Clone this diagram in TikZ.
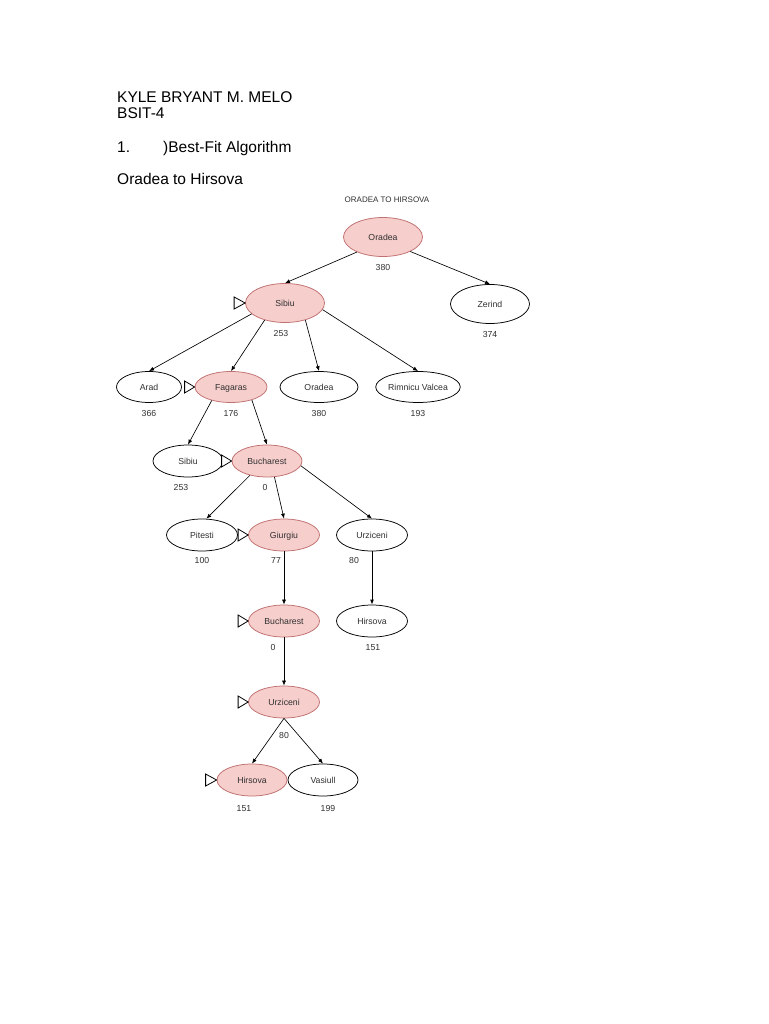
\documentclass[tikz,border=0pt]{standalone}
\usepackage{fontspec}
\setmainfont{Liberation Sans}
\usetikzlibrary{shapes.geometric,arrows.meta}
\definecolor{pinkfill}{HTML}{F6CECC}
\definecolor{pinkdraw}{HTML}{C07070}
\definecolor{txt}{HTML}{303030}
\begin{document}
\begin{tikzpicture}[x=1pt,y=-1pt,
  city/.style={ellipse, draw=black, line width=0.75pt, fill=white, inner sep=0pt,
    minimum width=71pt, minimum height=32pt, text height=6.2pt, text depth=0pt,
    text=txt, font=\fontsize{8.7}{10}\selectfont},
  visited/.style={city, fill=pinkfill, draw=pinkdraw},
  big/.style={minimum width=79pt, minimum height=39pt},
  cost/.style={font=\fontsize{8.7}{10}\selectfont, inner sep=0pt, text=txt,
    text height=6.2pt, text depth=0pt},
  edge/.style={-{Latex[length=5pt,width=4pt]}, line width=0.65pt},
  marker/.style={line width=0.8pt, fill=white, line join=miter},
  head/.style={anchor=base west, inner sep=0pt, font=\fontsize{15.5}{18}\selectfont}]
\fill[white] (0,0) rectangle (768,1024);
\useasboundingbox (0,0) rectangle (768,1024);

% header
\node[head] (h1) at (117,103) {KYLE BRYANT M. MELO};
\node[head] (h2) at (117,119) {BSIT-4};
\node[head] (h3) at (117,153) {1.};
\node[head] (h4) at (163,153) {)Best-Fit Algorithm};
\node[head] (h5) at (117,185) {Oradea to Hirsova};
\node[font=\fontsize{8}{10}\selectfont, inner sep=0pt, text=txt] (title) at (387,200) {ORADEA TO HIRSOVA};

% nodes
\node[visited,big] (oradea) at (383,237) {Oradea};
\node[cost] (c1) at (383,267) {380};
\node[visited,big] (sibiu) at (285,303) {Sibiu};
\node[cost] (c2) at (281,333) {253};
\node[city,big] (zerind) at (490,304) {Zerind};
\node[cost] (c3) at (490,334) {374};

\node[city,minimum width=65pt,minimum height=31pt] (arad) at (149,387) {Arad};
\node[cost] (c4) at (149,413) {366};
\node[visited,minimum width=72pt,minimum height=31pt] (fagaras) at (231,387) {Fagaras};
\node[cost] (c5) at (231,413) {176};
\node[city,minimum width=78pt,minimum height=31pt] (oradea2) at (319,387) {Oradea};
\node[cost] (c6) at (319,413) {380};
\node[city,minimum width=79pt,minimum height=31pt] (rimnicu) at (418,387) {Rimnicu Valcea};
\node[cost] (c7) at (418,413) {193};

\node[city,minimum width=70pt] (sibiu2) at (188,461) {Sibiu};
\node[cost] (c8) at (181,487) {253};
\node[visited,minimum width=70pt] (buch1) at (267,461) {Bucharest};
\node[cost] (c9) at (265,487) {0};

\node[city] (pitesti) at (202,535) {Pitesti};
\node[cost] (c10) at (202,560) {100};
\node[visited] (giurgiu) at (284,535) {Giurgiu};
\node[cost] (c11) at (276,560) {77};
\node[city] (urz1) at (372,535) {Urziceni};
\node[cost] (c12) at (354,560) {80};

\node[visited] (buch2) at (284,621) {Bucharest};
\node[cost] (c13) at (273,647) {0};
\node[city] (hirs1) at (372,621) {Hirsova};
\node[cost] (c14) at (373,647) {151};

\node[visited] (urz2) at (284,702) {Urziceni};
\node[cost] (c15) at (284,735) {80};

\node[visited,minimum width=70pt] (hirs2) at (252,780) {Hirsova};
\node[cost] (c16) at (244,808) {151};
\node[city,minimum width=70pt] (vasiull) at (323,780) {Vasiull};
\node[cost] (c17) at (328,808) {199};

% edges
\draw[edge] (oradea.-150) -- (sibiu.north);
\draw[edge] (oradea.-28) -- (zerind.north);
\draw[edge] (sibiu.-162) -- (arad.north);
\draw[edge] (sibiu.-140) -- (fagaras.north);
\draw[edge] (sibiu.-40) -- (oradea2.north);
\draw[edge] (sibiu.-10) -- (rimnicu.north);
\draw[edge] (fagaras.-145) -- (sibiu2.north);
\draw[edge] (fagaras.-32) -- (buch1.north);
\draw[edge] (buch1.-140) -- (pitesti.75);
\draw[edge] (buch1.-65) -- (giurgiu.north);
\draw[edge] (buch1.-8) -- (urz1.north);
\draw[edge, line width=0.9pt] (urz1.south) -- (hirs1.north);
\draw[edge] (giurgiu.south) -- (buch2.north);
\draw[edge] (buch2.south) -- (urz2.north);
\draw[edge] (urz2.south) -- (hirs2.north);
\draw[edge] (urz2.south) -- (vasiull.north);

% markers
\draw[marker] (sibiu.west) -- ++(-11,-6) -- ++(0,12) -- cycle;
\draw[marker] (fagaras.west) -- ++(-10,-6) -- ++(0,12) -- cycle;
\draw[marker] (buch1.west) -- ++(-10,-6) -- ++(0,12) -- cycle;
\draw[marker] (giurgiu.west) -- ++(-10,-6) -- ++(0,12) -- cycle;
\draw[marker] (buch2.west) -- ++(-10,-6) -- ++(0,12) -- cycle;
\draw[marker] (urz2.west) -- ++(-10,-6) -- ++(0,12) -- cycle;
\draw[marker] (hirs2.west) -- ++(-11,-6) -- ++(0,12) -- cycle;
\end{tikzpicture}
\end{document}
